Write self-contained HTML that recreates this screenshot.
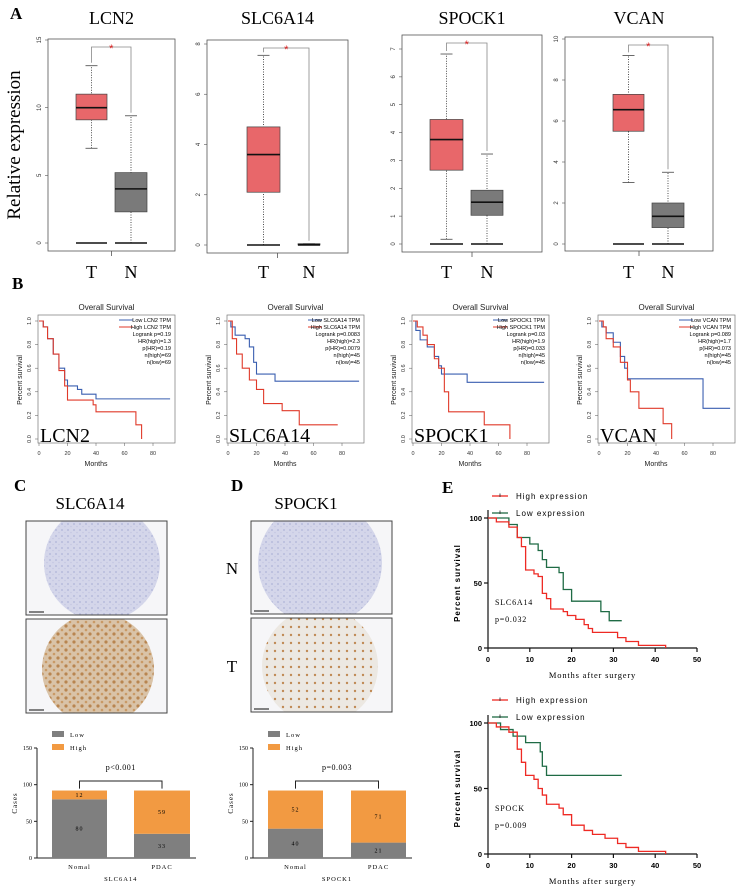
<!DOCTYPE html>
<html><head><meta charset="utf-8"><style>
html,body{margin:0;padding:0;background:#fff;}
svg{display:block;}
.serif{font-family:"Liberation Serif",serif;}
.sans{font-family:"Liberation Sans",sans-serif;}
</style></head>
<body>
<svg id="fig" width="742" height="889" viewBox="0 0 742 889" xmlns="http://www.w3.org/2000/svg">
<defs>
<pattern id="blueTex" width="6" height="6" patternUnits="userSpaceOnUse"><rect width="6" height="6" fill="#d4d6ea"/><circle cx="2" cy="2" r="1" fill="#b8bcdc"/><circle cx="5" cy="4.5" r="0.8" fill="#c4c7e2"/></pattern>
<pattern id="brownTex" width="8" height="8" patternUnits="userSpaceOnUse"><rect width="8" height="8" fill="#d9c3a8"/><circle cx="2" cy="2" r="1.6" fill="#b88550"/><circle cx="6" cy="6" r="1.3" fill="#c99a66"/></pattern>
<pattern id="lightTex" width="8" height="8" patternUnits="userSpaceOnUse"><rect width="8" height="8" fill="#ece8e2"/><circle cx="3" cy="3" r="1.2" fill="#c08a55"/></pattern>
</defs>
<g id="root"></g>
</svg>
<script>
// ===== Panel A data: [lowerWhisker, q1, median, q3, upperWhisker] =====
const aGenes = ["LCN2","SLC6A14","SPOCK1","VCAN"];
const aTumor = [[7,9.1,10,11,13.1],[0,2.1,3.6,4.7,7.55],[0.17,2.65,3.75,4.47,6.82],[3,5.5,6.55,7.3,9.2]];
const aNormal = [[0,2.3,4,5.2,9.4],[0,0,0.02,0.05,0.05],[0,1.03,1.5,1.93,3.23],[0,0.8,1.35,2.0,3.5]];
const aYMax = [15,8,7,10];
const aTicks = [[0,5,10,15],[0,2,4,6,8],[0,1,2,3,4,5,6,7],[0,2,4,6,8,10]];
// ===== Panel B data =====
const bGenes = ["LCN2","SLC6A14","SPOCK1","VCAN"];
const bStats = [["Logrank p=0.19","HR(high)=1.3","p(HR)=0.19","n(high)=69","n(low)=69"],
 ["Logrank p=0.0083","HR(high)=2.3","p(HR)=0.0079","n(high)=45","n(low)=45"],
 ["Logrank p=0.03","HR(high)=1.9","p(HR)=0.033","n(high)=45","n(low)=45"],
 ["Logrank p=0.089","HR(high)=1.7","p(HR)=0.073","n(high)=45","n(low)=45"]];
const bLowT = [[3,6,10,14,18,20,27,30,40,92],[2,5,12,15,18,20,33,92],[2,5,10,15,18,20,38,92],[2,5,10,15,18,20,72,73,92]];
const bLowS = [[0.95,0.85,0.72,0.6,0.5,0.45,0.42,0.38,0.34,0.34],[0.95,0.88,0.85,0.78,0.65,0.55,0.49,0.49],[0.92,0.84,0.78,0.7,0.62,0.55,0.48,0.48],[0.95,0.9,0.82,0.7,0.6,0.51,0.51,0.26,0.26]];
const bHighT = [[3,6,10,14,18,20,38,40,68,72],[3,6,10,15,20,25,38,50,77],[3,7,10,15,18,22,25,50,68],[3,5,10,15,20,22,28,45,51]];
const bHighS = [[0.95,0.85,0.72,0.58,0.45,0.33,0.29,0.23,0.12,0],[0.85,0.72,0.6,0.5,0.42,0.3,0.24,0.12,0.12],[0.95,0.88,0.8,0.68,0.6,0.4,0.23,0.12,0],[0.95,0.85,0.78,0.65,0.5,0.4,0.26,0.13,0]];
const bXTicks = [0,20,40,60,80];
const bYTicks = [0,0.2,0.4,0.6,0.8,1.0];
// ===== Panel C/D bar data =====
const barCats = ["Nomal","PDAC"];
const cLow = [80,33], cHigh = [12,59];
const dLow = [40,21], dHigh = [52,71];
const barTicks = [0,50,100,150];
// ===== Panel E survival data (percent) =====
const e1HighT = [2,5,7,8,9,11,12,13,14,15,18,19,21,23,24,25,30,31,33,36,42.5];
const e1HighS = [97,93,85,78,60,57,55,42,38,30,28,25,22,18,15,12,12,8,5,2,0];
const e1LowT = [5,7,10,12,13,14,17,18,20,27,29,32];
const e1LowS = [95,85,80,75,68,62,58,45,36,28,21,21];
const e2HighT = [2,5,7,8,9,11,12,13,14,17,18,20,23,25,28,31,33,36,42.5];
const e2HighS = [97,93,80,70,60,57,50,45,38,35,30,22,18,15,12,8,5,2,0];
const e2LowT = [3,6,9,12.5,13,14,32];
const e2LowS = [95,90,85,78,67,60,60];
const eXTicks = [0,10,20,30,40,50];
const eYTicks = [0,50,100];

const NS="http://www.w3.org/2000/svg";
const root=document.getElementById('root');
function el(tag,attrs,parent,text){const e=document.createElementNS(NS,tag);for(const k in attrs)e.setAttribute(k,attrs[k]);if(text!==undefined)e.textContent=text;(parent||root).appendChild(e);return e;}

// Panel labels
[["A",10,19],["B",12,289],["C",14,491],["D",231,491],["E",442,493]].forEach(p=>{
 const t=el('text',{x:p[1],y:p[2],'font-size':17,'font-weight':'bold',class:'serif'},root,p[0]);
 
 
});

// ===== Panel A =====
const aFrames=[[48,39,175,251,243,40],[207,40,348,253,245,44],[402,35,542,252,244,49],[565,37,713,251,244,39]];
const aBoxX=[[76,107,115,147],[247,280,298,320],[430,463,471,503],[613,644,652,684]];
const yl=el('text',{transform:'translate(20,145) rotate(-90)','text-anchor':'middle','font-size':19,class:'serif'},root,'Relative expression');

aGenes.forEach((g,i)=>{
 const [fl,ft,fr,fb,y0,yM]=aFrames[i];
 const gr=el('g',{});
 
 const ys=v=>y0-(y0-yM)*v/aYMax[i];
 const t=el('text',{x:(fl+fr)/2,y:24,'text-anchor':'middle','font-size':18,class:'serif'},gr,g);
 
 el('rect',{x:fl,y:ft,width:fr-fl,height:fb-ft,fill:'none',stroke:'#555','stroke-width':0.8},gr);
 el('line',{x1:(fl+fr)/2,y1:fb,x2:(fl+fr)/2,y2:fb+5,stroke:'#555','stroke-width':0.8},gr);
 aTicks[i].forEach(v=>{
  el('line',{x1:fl-3,y1:ys(v),x2:fl,y2:ys(v),stroke:'#555','stroke-width':0.6},gr);
  el('text',{transform:`translate(${fl-7},${ys(v)}) rotate(-90)`,'text-anchor':'middle','font-size':6,class:'sans',fill:'#333'},gr,String(v));
 });
 const [tx1,tx2,nx1,nx2]=aBoxX[i];
 [[aTumor[i],tx1,tx2,'#e8676a','tumor'],[aNormal[i],nx1,nx2,'#7a7a7a','normal']].forEach(([b,x1,x2,col,nm])=>{
  const cx=(x1+x2)/2;
  const bg=el('g',{},gr);
  
  el('line',{x1:cx,y1:ys(b[0]),x2:cx,y2:ys(b[4]),stroke:'#222','stroke-width':0.8,'stroke-dasharray':'1,1.5'},bg);
  el('line',{x1:cx-6,y1:ys(b[4]),x2:cx+6,y2:ys(b[4]),stroke:'#444','stroke-width':0.8},bg);
  el('line',{x1:cx-6,y1:ys(b[0]),x2:cx+6,y2:ys(b[0]),stroke:'#444','stroke-width':0.8},bg);
  el('rect',{x:x1,y:ys(b[3]),width:x2-x1,height:Math.max(0.8,ys(b[1])-ys(b[3])),fill:col,stroke:'#444','stroke-width':0.7},bg);
  el('line',{x1:x1,y1:ys(b[2]),x2:x2,y2:ys(b[2]),stroke:'#111','stroke-width':1.6},bg);
  el('line',{x1:x1,y1:ys(0),x2:x2,y2:ys(0),stroke:'#111','stroke-width':1.6},bg);
 });
 const tc=(tx1+tx2)/2,nc=(nx1+nx2)/2,by=ft+8;
 el('polyline',{points:`${tc},${ys(aTumor[i][4])-3} ${tc},${by} ${nc},${by} ${nc},${ys(aNormal[i][4])-3}`,fill:'none',stroke:'#888','stroke-width':0.8},gr);
 el('text',{x:(tc+nc)/2,y:by+5,'text-anchor':'middle','font-size':11,fill:'#e02020',class:'sans'},gr,'*');
 el('text',{x:tc,y:278,'text-anchor':'middle','font-size':18,class:'serif'},gr,'T');
 el('text',{x:nc,y:278,'text-anchor':'middle','font-size':18,class:'serif'},gr,'N');
});

// ===== Panel B =====
const bX0=[39,228,413,599], bScale=1.425, bY0=439, bY1=321;
bGenes.forEach((g,i)=>{
 const x0=bX0[i], xs=m=>x0+m*bScale, ys=s=>bY0-(bY0-bY1)*s;
 const fl=x0-1, fr=x0+136;
 const gr=el('g',{});
 
 el('text',{x:(fl+fr)/2,y:310,'text-anchor':'middle','font-size':8,class:'sans',fill:'#222'},gr,'Overall Survival');
 el('rect',{x:fl,y:315,width:fr-fl,height:128,fill:'none',stroke:'#777','stroke-width':0.7},gr);
 bYTicks.forEach(v=>{
  el('line',{x1:fl-3,y1:ys(v),x2:fl,y2:ys(v),stroke:'#555','stroke-width':0.5},gr);
  el('text',{transform:`translate(${fl-7},${ys(v)}) rotate(-90)`,'text-anchor':'middle','font-size':5.5,class:'sans',fill:'#333'},gr,v.toFixed(1));
 });
 bXTicks.forEach(v=>{
  el('line',{x1:xs(v),y1:443,x2:xs(v),y2:446,stroke:'#555','stroke-width':0.5},gr);
  el('text',{x:xs(v),y:455,'text-anchor':'middle','font-size':5.5,class:'sans',fill:'#333'},gr,String(v));
 });
 el('text',{x:xs(40),y:466,'text-anchor':'middle','font-size':7,class:'sans',fill:'#222'},gr,'Months');
 el('text',{transform:`translate(${fl-16},380) rotate(-90)`,'text-anchor':'middle','font-size':7,class:'sans',fill:'#222'},gr,'Percent survival');
 function step(T,S){let d=`M${xs(0)},${ys(1)}`;let prev=1;T.forEach((t,k)=>{d+=` H${xs(t)} V${ys(S[k])}`;});return d;}
 const lo=el('path',{d:step(bLowT[i],bLowS[i]),fill:'none',stroke:'#3a5fb0','stroke-width':1.1},gr);
 
 const hi=el('path',{d:step(bHighT[i],bHighS[i]),fill:'none',stroke:'#e03a2a','stroke-width':1.1},gr);
 
 // legend
 const lx=fr-4;
 el('line',{x1:lx-52,y1:320,x2:lx-38,y2:320,stroke:'#3a5fb0','stroke-width':1},gr);
 el('text',{x:lx,y:322,'text-anchor':'end','font-size':5.5,class:'sans'},gr,'Low '+g+' TPM');
 el('line',{x1:lx-52,y1:327,x2:lx-38,y2:327,stroke:'#e03a2a','stroke-width':1},gr);
 el('text',{x:lx,y:329,'text-anchor':'end','font-size':5.5,class:'sans'},gr,'High '+g+' TPM');
 bStats[i].forEach((s,k)=>el('text',{x:lx,y:336+7*k,'text-anchor':'end','font-size':5.5,class:'sans'},gr,s));
 el('text',{x:fl+2,y:442,'font-size':20,class:'serif'},gr,g);
});

// ===== Panels C/D images =====
function ihc(x,y,w,h,cx,cy,r,fill,name){
 const g=el('g',{});
 
 const id='clip'+name;
 const cp=el('clipPath',{id:id},g);el('rect',{x:x,y:y,width:w,height:h},cp);
 el('rect',{x:x,y:y,width:w,height:h,fill:'#f6f6f8'},g);
 el('circle',{cx:cx,cy:cy,r:r,fill:fill,'clip-path':`url(#${id})`},g);
 el('rect',{x:x,y:y,width:w,height:h,fill:'none',stroke:'#444','stroke-width':1},g);
 el('line',{x1:x+3,y1:y+h-3,x2:x+18,y2:y+h-3,stroke:'#333','stroke-width':1.2},g);
}
ihc(26,521,141,94,102,563,58,'url(#blueTex)','ihc-slc6a14-normal');
ihc(26,619,141,94,98,669,56,'url(#brownTex)','ihc-slc6a14-tumor');
ihc(251,521,141,93,320,563,62,'url(#blueTex)','ihc-spock1-normal');
ihc(251,618,141,94,320,666,58,'url(#lightTex)','ihc-spock1-tumor');
[["SLC6A14",90,509],["SPOCK1",306,509]].forEach(t=>{
 const e=el('text',{x:t[1],y:t[2],'text-anchor':'middle','font-size':17,class:'serif'},root,t[0]);
 
});
[["N",232,574],["T",232,672]].forEach(t=>{
 const e=el('text',{x:t[1],y:t[2],'text-anchor':'middle','font-size':17,class:'serif'},root,t[0]);
 
});

// ===== Bar charts =====
function barChart(ax,bx,low,high,pText,gene){
 const g=el('g',{});
 
 const y0=858, per=(858-748)/150, ys=v=>y0-v*per;
 el('line',{x1:ax,y1:ys(150),x2:ax,y2:y0,stroke:'#222','stroke-width':1},g);
 el('line',{x1:ax,y1:y0,x2:bx[1][1]+6,y2:y0,stroke:'#222','stroke-width':1},g);
 barTicks.forEach(v=>{
  el('line',{x1:ax-3,y1:ys(v),x2:ax,y2:ys(v),stroke:'#222','stroke-width':1},g);
  el('text',{x:ax-5,y:ys(v)+2,'text-anchor':'end','font-size':6,class:'serif'},g,String(v));
 });
 el('text',{transform:`translate(${ax-20},803) rotate(-90)`,'text-anchor':'middle','font-size':7,class:'serif','letter-spacing':1},g,'Cases');
 barCats.forEach((c,k)=>{
  const [x1,x2]=bx[k], cx=(x1+x2)/2;
  const lr=el('rect',{x:x1,y:ys(low[k]),width:x2-x1,height:low[k]*per,fill:'#7f7f7f'},g);
  
  const hr=el('rect',{x:x1,y:ys(low[k]+high[k]),width:x2-x1,height:high[k]*per,fill:'#f29a42'},g);
  
  el('text',{x:cx,y:ys(low[k]/2)+2,'text-anchor':'middle','font-size':6,class:'serif','letter-spacing':1},g,String(low[k]));
  el('text',{x:cx,y:ys(low[k]+high[k]/2)+2,'text-anchor':'middle','font-size':6,class:'serif','letter-spacing':1},g,String(high[k]));
  el('text',{x:cx,y:869,'text-anchor':'middle','font-size':6.5,class:'serif','letter-spacing':1},g,c);
 });
 const c0=(bx[0][0]+bx[0][1])/2,c1=(bx[1][0]+bx[1][1])/2;
 el('polyline',{points:`${c0},${ys(100)+4} ${c0},${ys(105)} ${c1},${ys(105)} ${c1},${ys(100)+4}`,fill:'none',stroke:'#222','stroke-width':1},g);
 el('text',{x:(c0+c1)/2,y:770,'text-anchor':'middle','font-size':8,class:'serif','letter-spacing':0.5},g,pText);
 el('text',{x:(c0+c1)/2,y:881,'text-anchor':'middle','font-size':6.5,class:'serif','letter-spacing':1},g,gene);
 el('rect',{x:bx[0][0],y:731,width:12,height:6,fill:'#7f7f7f'},g);
 el('text',{x:bx[0][0]+18,y:737,'font-size':6.5,class:'serif','letter-spacing':1},g,'Low');
 el('rect',{x:bx[0][0],y:744,width:12,height:6,fill:'#f29a42'},g);
 el('text',{x:bx[0][0]+18,y:750,'font-size':6.5,class:'serif','letter-spacing':1},g,'High');
}
barChart(37,[[52,107],[134,190]],cLow,cHigh,'p<0.001','SLC6A14');
barChart(253,[[268,323],[351,406]],dLow,dHigh,'p=0.003','SPOCK1');

// ===== Panel E =====
function ePlot(y0,y100,HT,HS,LT,LS,gene,p,legY,name){
 const g=el('g',{});
 
 const x0=488, per=(697-488)/50, xs=m=>x0+m*per, ys=v=>y0-(y0-y100)*v/100;
 el('line',{x1:x0,y1:y100-8,x2:x0,y2:y0,stroke:'#111','stroke-width':1.2},g);
 el('line',{x1:x0,y1:y0,x2:xs(50),y2:y0,stroke:'#111','stroke-width':1.2},g);
 eYTicks.forEach(v=>{
  el('line',{x1:x0-4,y1:ys(v),x2:x0,y2:ys(v),stroke:'#111','stroke-width':1.2},g);
  el('text',{x:x0-6,y:ys(v)+3,'text-anchor':'end','font-size':7.5,'font-weight':'bold',class:'sans'},g,String(v));
 });
 eXTicks.forEach(v=>{
  el('line',{x1:xs(v),y1:y0,x2:xs(v),y2:y0+4,stroke:'#111','stroke-width':1.2},g);
  el('text',{x:xs(v),y:y0+14,'text-anchor':'middle','font-size':7.5,'font-weight':'bold',class:'sans'},g,String(v));
 });
 el('text',{x:xs(25),y:y0+30,'text-anchor':'middle','font-size':8.5,class:'serif','letter-spacing':0.8},g,'Months after surgery');
 el('text',{transform:`translate(${x0-28},${(y0+y100)/2}) rotate(-90)`,'text-anchor':'middle','font-size':8,'font-weight':'bold',class:'sans','letter-spacing':1},g,'Percent survival');
 function step(T,S){let d=`M${xs(0)},${ys(100)}`;T.forEach((t,k)=>{d+=` H${xs(t)} V${ys(S[k])}`;});return d;}
 const lo=el('path',{d:step(LT,LS),fill:'none',stroke:'#1f6b45','stroke-width':1.3},g);
 
 const hi=el('path',{d:step(HT,HS),fill:'none',stroke:'#ee2a24','stroke-width':1.3},g);
 
 el('text',{x:x0+7,y:ys(33),'font-size':8,class:'serif','letter-spacing':0.8},g,gene);
 el('text',{x:x0+7,y:ys(20),'font-size':8,class:'serif','letter-spacing':0.8},g,p);
 [[legY,'#ee2a24','High expression'],[legY+17,'#1f6b45','Low expression']].forEach(([y,c,t])=>{
  el('line',{x1:492,y1:y,x2:508,y2:y,stroke:c,'stroke-width':1.3},g);
  el('line',{x1:500,y1:y-2.5,x2:500,y2:y+1,stroke:'#222','stroke-width':0.8},g);
  el('text',{x:516,y:y+3,'font-size':8,class:'sans','letter-spacing':1},g,t);
 });
}
ePlot(648,518,e1HighT,e1HighS,e1LowT,e1LowS,'SLC6A14','p=0.032',496,'survival-e-slc6a14');
ePlot(854,723,e2HighT,e2HighS,e2LowT,e2LowS,'SPOCK','p=0.009',700,'survival-e-spock');
</script>
</body></html>
